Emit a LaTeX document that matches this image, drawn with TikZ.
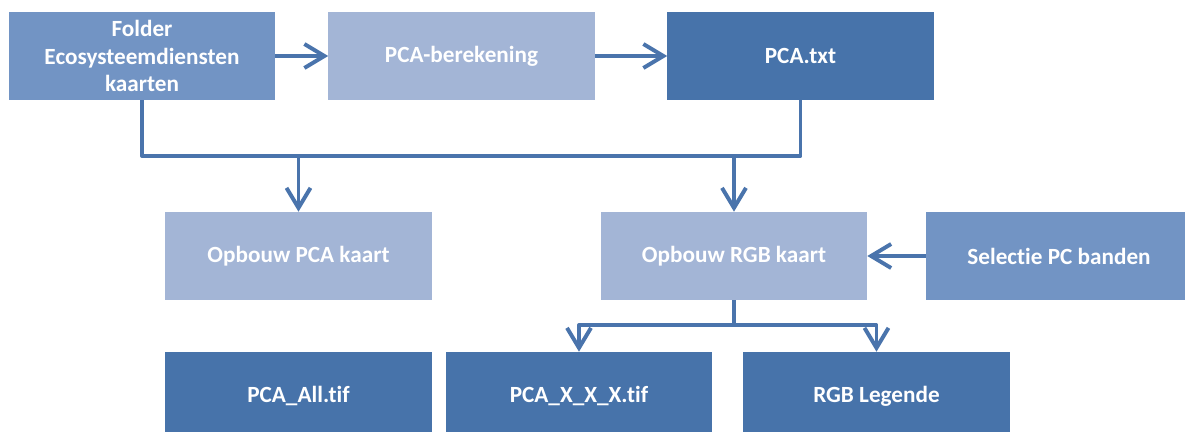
\documentclass[tikz,border=0pt]{standalone}
\usepackage{fontspec}
\setmainfont{Carlito}[Ligatures=NoCommon]
\usetikzlibrary{arrows.meta}

\definecolor{midblue}{HTML}{7294C4}
\definecolor{lightblue}{HTML}{A3B5D6}
\definecolor{darkblue}{HTML}{4773AA}
\definecolor{linkblue}{HTML}{4A74AC}

\tikzset{
  box/.style={minimum width=6.65cm, minimum height=2.2cm, inner sep=0pt,
    align=center, text=white, font=\fontsize{16.5}{19.5}\selectfont\bfseries},
  link/.style={draw=linkblue, line width=2.8pt, line join=round},
  arr/.style={link, -{Straight Barb[length=5mm,width=6mm]}}
}

\begin{document}
\begin{tikzpicture}[x=0.025cm, y=-0.025cm]
		%%%%% START %%%%%
		\useasboundingbox (0, 0) rectangle (1185, 432);
		\clip (0, 0) rectangle (1185, 432);
		
		% top row
		\node[box, fill=midblue] (folder) at (142, 56) {Folder\\Ecosysteemdiensten\\kaarten};
		\node[box, fill=lightblue] (pcaber) at (461.5, 56) {PCA-berekening};
		\node[box, fill=darkblue] (pcatxt) at (800.5, 56) {PCA.txt};
		
		% middle row
		\node[box, fill=lightblue] (pcakaart) at (298.5, 256) {Opbouw PCA kaart};
		\node[box, fill=lightblue] (rgbkaart) at (734, 256) {Opbouw RGB kaart};
		\node[box, fill=midblue] (selectie) at (1059, 256) {Selectie PC banden};
		
		% bottom row
		\node[box, fill=darkblue] (pcaall) at (298.5, 396) {PCA\_All.tif};
		\node[box, fill=darkblue] (pcaxxx) at (579, 396) {PCA\_X\_X\_X.tif};
		\node[box, fill=darkblue] (legende) at (876.5, 396) {RGB Legende};
		
		\draw[arr] (folder) -- (pcaber);
		\draw[arr] (pcaber) -- (pcatxt);
		
		\coordinate (bus) at (0, 156);
		\draw[link] (folder.south) -- (folder.south |- bus) -| (pcatxt.south);
		\draw[arr] (pcakaart.north |- bus) -- (pcakaart.north);
		\draw[arr] (rgbkaart.north |- bus) -- (rgbkaart.north);
		
		\draw[arr] (selectie) -- (rgbkaart);
		
		\draw[link] (rgbkaart.south) -- ++(0, 25) coordinate (split);
		\draw[arr] (split) -| (pcaxxx.north);
		\draw[arr] (split) -| (legende.north);
		
		%%%%% END %%%%%
	\end{tikzpicture}
\end{document}
